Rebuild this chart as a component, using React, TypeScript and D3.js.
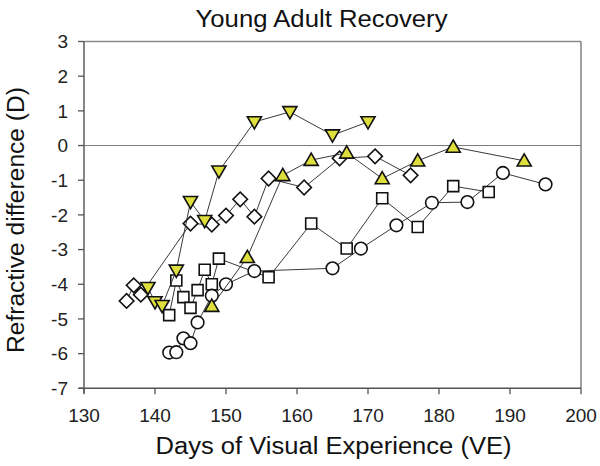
import React from 'react';
import * as d3 from 'd3';

const title = 'Young Adult Recovery';
const xLabel = 'Days of Visual Experience (VE)';
const yLabel = 'Refractive difference (D)';

const xTicks = [130, 140, 150, 160, 170, 180, 190, 200];
const yTicks = [3, 2, 1, 0, -1, -2, -3, -4, -5, -6, -7];

// Series: open squares
const squareDays = [142, 143, 144, 145, 146, 147, 148, 149, 156, 162, 167, 172, 177, 182, 187];
const squareValues = [-4.89, -3.89, -4.37, -4.68, -4.17, -3.58, -4.0, -3.26, -3.8, -2.25, -2.97, -1.52, -2.35, -1.17, -1.34];

// Series: open circles
const circleDays = [142, 143, 144, 145, 146, 148, 150, 154, 165, 169, 174, 179, 184, 189, 195];
const circleValues = [-5.97, -5.96, -5.56, -5.7, -5.1, -4.33, -4.0, -3.62, -3.54, -2.97, -2.3, -1.65, -1.63, -0.79, -1.12];

// Series: open diamonds
const diamondDays = [136, 137, 138, 145, 148, 150, 152, 154, 156, 161, 166, 171, 176];
const diamondValues = [-4.48, -4.03, -4.3, -2.25, -2.28, -2.02, -1.55, -2.05, -0.95, -1.21, -0.37, -0.31, -0.86];

// Series: yellow up-triangles
const upDays = [148, 153, 158, 162, 167, 172, 177, 182, 192];
const upValues = [-4.63, -3.22, -0.86, -0.42, -0.21, -0.95, -0.44, -0.04, -0.44];

// Series: yellow down-triangles
const downDays = [139, 140, 141, 143, 145, 147, 149, 154, 159, 165, 170];
const downValues = [-4.1, -4.51, -4.62, -3.6, -1.62, -2.17, -0.74, 0.68, 0.97, 0.3, 0.68];

type Kind = 'square' | 'circle' | 'diamond' | 'up' | 'down';

const seriesList: { kind: Kind; days: number[]; values: number[] }[] = [
  { kind: 'square', days: squareDays, values: squareValues },
  { kind: 'circle', days: circleDays, values: circleValues },
  { kind: 'diamond', days: diamondDays, values: diamondValues },
  { kind: 'up', days: upDays, values: upValues },
  { kind: 'down', days: downDays, values: downValues },
];

const W = 600;
const H = 466;
const L = 84;
const R = 581;
const T = 41.5;
const B = 388.3;
const FONT = "'Liberation Sans', Arial, Helvetica, sans-serif";
const YELLOW = '#dede3c';

const x = d3.scaleLinear().domain([130, 200]).range([L, R]);
const y = d3.scaleLinear().domain([-7, 3]).range([B, T]);

function markerPath(kind: Kind): { d: string; rot: number } {
  switch (kind) {
    case 'square':
      return { d: d3.symbol().type(d3.symbolSquare).size(121)()!, rot: 0 };
    case 'circle':
      return { d: d3.symbol().type(d3.symbolCircle).size(125)()!, rot: 0 };
    case 'diamond':
      return { d: d3.symbol().type(d3.symbolSquare).size(106)()!, rot: 45 };
    case 'up':
      return { d: d3.symbol().type(d3.symbolTriangle).size(86)()!, rot: 0 };
    case 'down':
      return { d: d3.symbol().type(d3.symbolTriangle).size(86)()!, rot: 180 };
  }
}

export default function App() {
  const line = d3
    .line<[number, number]>()
    .x((d) => x(d[0]))
    .y((d) => y(d[1]));

  return (
    <svg
      width={W}
      height={H}
      style={{ position: 'absolute', left: 0, top: 0, background: '#fff' }}
      fontFamily={FONT}
    >
      <rect x={0} y={0} width={W} height={H} fill="#fff" />
      {/* frame top/right */}
      <line x1={L} x2={R} y1={T} y2={T} stroke="#8a8a8a" strokeWidth={1.6} />
      <line x1={R} x2={R} y1={T} y2={B} stroke="#8a8a8a" strokeWidth={1.6} />
      {/* zero line */}
      <line x1={L} x2={R} y1={y(0)} y2={y(0)} stroke="#7a7a7a" strokeWidth={1} />
      {/* axes */}
      <line x1={L} x2={L} y1={T} y2={B + 5} stroke="#666" strokeWidth={1.6} />
      <line x1={L - 5} x2={R} y1={B} y2={B} stroke="#555" strokeWidth={1.6} />
      {yTicks.map((t) => (
        <g key={'y' + t}>
          <line x1={L - 6} x2={L} y1={y(t)} y2={y(t)} stroke="#555" strokeWidth={1.3} />
          <text x={68} y={y(t)} dy="0.36em" textAnchor="end" fontSize={19} fill="#222">
            {t < 0 ? '-' + Math.abs(t) : String(t)}
          </text>
        </g>
      ))}
      {xTicks.map((t) => (
        <g key={'x' + t}>
          <line x1={x(t)} x2={x(t)} y1={B} y2={B + 6} stroke="#555" strokeWidth={1.3} />
          <text x={x(t)} y={422} textAnchor="middle" fontSize={19} fill="#222">
            {t}
          </text>
        </g>
      ))}
      <text
        x={321.5}
        y={27}
        textAnchor="middle"
        fontSize={23}
        fill="#111"
        textLength={252}
        lengthAdjust="spacingAndGlyphs"
      >
        {title}
      </text>
      <text
        x={333.5}
        y={454}
        textAnchor="middle"
        fontSize={23}
        fill="#111"
        textLength={356}
        lengthAdjust="spacingAndGlyphs"
      >
        {xLabel}
      </text>
      <text
        transform={`translate(24,220) rotate(-90)`}
        textAnchor="middle"
        fontSize={23}
        fill="#111"
        textLength={266}
        lengthAdjust="spacingAndGlyphs"
      >
        {yLabel}
      </text>

      {seriesList.map((s) => {
        const pts = s.days.map((d, i) => [d, s.values[i]] as [number, number]);
        const m = markerPath(s.kind);
        const filled = s.kind === 'up' || s.kind === 'down';
        return (
          <g key={s.kind}>
            <path d={line(pts)!} fill="none" stroke="#222" strokeWidth={0.9} />
            {pts.map((p, i) => (
              <path
                key={i}
                d={m.d}
                transform={`translate(${x(p[0])},${y(p[1]) + (s.kind === 'up' ? 1.2 : s.kind === 'down' ? -1.2 : 0)}) rotate(${m.rot})`}
                fill={filled ? YELLOW : '#fff'}
                stroke="#111"
                strokeWidth={1.6}
              />
            ))}
          </g>
        );
      })}
    </svg>
  );
}
